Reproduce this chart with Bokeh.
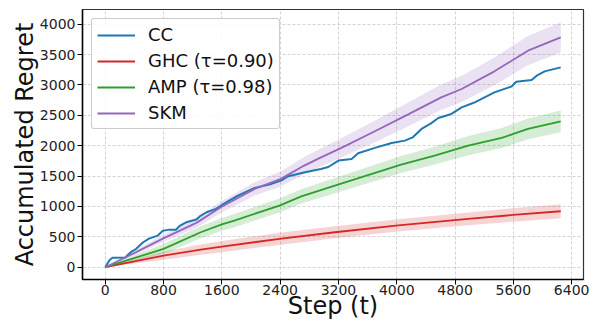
from bokeh.plotting import figure
from bokeh.models import Range1d, FixedTicker, Legend, LegendItem
from bokeh.embed import file_html
from bokeh.resources import INLINE
import numpy as np

# ---------------- data ----------------
cc_t = [0, 60, 100, 280, 300, 350, 420, 520, 600, 720, 790, 860, 970, 1020, 1110, 1250,
        1300, 1390, 1520, 1660, 1820, 2050, 2280, 2410, 2500, 2740, 2960, 3060, 3200, 3380,
        3470, 3700, 3930, 4110, 4220, 4340, 4470, 4570, 4750, 4890, 5020, 5070, 5340, 5570,
        5640, 5850, 5920, 6030, 6250]
cc_v = [0, 120, 155, 160, 192, 247, 300, 411, 470, 521, 600, 615, 618, 680, 740, 785,
        840, 905, 960, 1069, 1179, 1306, 1371, 1426, 1492, 1563, 1618, 1650, 1755, 1783,
        1875, 1964, 2046, 2084, 2138, 2276, 2368, 2457, 2523, 2632, 2690, 2714, 2878, 2972,
        3054, 3082, 3153, 3224, 3289]

ghc_t = [0, 800, 1310, 1600, 2390, 3150, 4020, 4980, 5600, 6250]
ghc_v = [0, 192, 291, 340, 467, 576, 690, 796, 860, 921]
ghc_sd = [0, 68, 85, 92, 100, 100, 100, 105, 110, 115]

amp_t = [0, 800, 1310, 1600, 1770, 2390, 2690, 3150, 4060, 4520, 4980, 5440, 5800, 6250]
amp_v = [0, 302, 576, 705, 768, 1015, 1165, 1344, 1689, 1837, 2002, 2128, 2276, 2401]
amp_sd = [0, 85, 100, 105, 108, 115, 118, 125, 140, 148, 157, 165, 170, 178]

skm_t = [0, 330, 790, 1250, 1590, 2050, 2410, 2730, 2960, 3240, 3700, 4150, 4610, 4890,
         5340, 5800, 6250]
skm_v = [0, 192, 470, 730, 990, 1289, 1454, 1673, 1809, 1964, 2237, 2511, 2796, 2934,
         3224, 3564, 3783]
skm_sd = [0, 35, 60, 80, 95, 110, 125, 140, 150, 160, 180, 195, 210, 215, 228, 240, 250]

x_ticks = [0, 800, 1600, 2400, 3200, 4000, 4800, 5600, 6400]
y_ticks = [0, 500, 1000, 1500, 2000, 2500, 3000, 3500, 4000]

labels = ["CC", "GHC (\u03c4=0.90)", "AMP (\u03c4=0.98)", "SKM"]
colors = ["#1f77b4", "#d62728", "#2ca02c", "#9467bd"]
x_title = "Step (t)"
y_title = "Accumulated Regret"

FONT = "DejaVu Sans"

p = figure(width=589, height=322, output_backend="svg", toolbar_location=None,
           x_range=Range1d(-312.5, 6562.5), y_range=Range1d(-202, 4242),
           min_border_left=82, min_border_right=6, min_border_top=9, min_border_bottom=43)
p.background_fill_color = "white"
p.border_fill_color = "white"
p.outline_line_color = "#333333"
p.outline_line_width = 1.2

# bands
series = [(ghc_t, ghc_v, ghc_sd, colors[1]), (amp_t, amp_v, amp_sd, colors[2]),
          (skm_t, skm_v, skm_sd, colors[3])]
for t, v, sd, c in series:
    v_a = np.array(v, dtype=float)
    s_a = np.array(sd, dtype=float)
    p.varea(x=t, y1=v_a - s_a, y2=v_a + s_a, fill_color=c, fill_alpha=0.2)

r_cc = p.line(cc_t, cc_v, line_color=colors[0], line_width=2)
r_ghc = p.line(ghc_t, ghc_v, line_color=colors[1], line_width=1.8)
r_amp = p.line(amp_t, amp_v, line_color=colors[2], line_width=1.8)
r_skm = p.line(skm_t, skm_v, line_color=colors[3], line_width=1.8)

# axes
for ax in (p.xaxis[0], p.yaxis[0]):
    ax.major_label_text_font = FONT
    ax.major_label_text_font_size = "14px"
    ax.major_label_text_color = "#222222"
    ax.axis_label_text_font = FONT
    ax.axis_label_text_font_size = "24px"
    ax.axis_label_text_font_style = "normal"
    ax.axis_label_text_color = "#111111"
    ax.major_tick_out = 5
    ax.major_tick_in = 0
    ax.minor_tick_out = 0
    ax.minor_tick_in = 0
    ax.axis_line_color = "black"
    ax.axis_line_width = 1.5
    ax.major_tick_line_color = "black"

p.xaxis[0].ticker = FixedTicker(ticks=x_ticks)
p.yaxis[0].ticker = FixedTicker(ticks=y_ticks)
p.xaxis[0].axis_label = x_title
p.yaxis[0].axis_label = y_title
p.xaxis[0].major_label_standoff = 0
p.yaxis[0].major_label_standoff = 2
p.xaxis[0].axis_label_standoff = -6
p.yaxis[0].axis_label_standoff = -2

for g in (p.xgrid[0], p.ygrid[0]):
    g.grid_line_color = "#b0b0b0"
    g.grid_line_alpha = 0.7
    g.grid_line_dash = "3 2"
    g.grid_line_width = 0.8
p.xgrid[0].ticker = FixedTicker(ticks=x_ticks)
p.ygrid[0].ticker = FixedTicker(ticks=y_ticks)

legend = Legend(items=[LegendItem(label=labels[0], renderers=[r_cc]),
                       LegendItem(label=labels[1], renderers=[r_ghc]),
                       LegendItem(label=labels[2], renderers=[r_amp]),
                       LegendItem(label=labels[3], renderers=[r_skm])],
                location="top_left")
legend.label_text_font = FONT
legend.label_text_font_size = "18px"
legend.label_text_color = "#111111"
legend.glyph_width = 38
legend.glyph_height = 20
legend.label_height = 20
legend.label_standoff = 13
legend.spacing = 5
legend.padding = 5
legend.margin = 9
legend.border_line_color = "#999999"
legend.border_line_width = 1
legend.border_radius = 3
legend.background_fill_alpha = 0.85
p.add_layout(legend)

open("out.html", "w").write(file_html(p, INLINE))
